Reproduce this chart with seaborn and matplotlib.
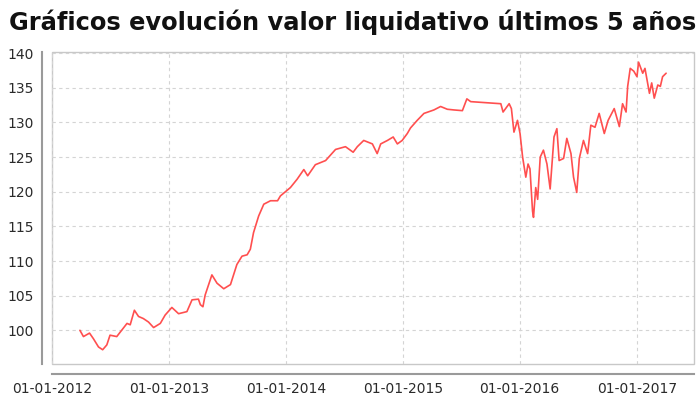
import pandas as pd
import matplotlib
matplotlib.use("Agg")
import matplotlib.pyplot as plt
import matplotlib.dates as mdates
from matplotlib.patches import Rectangle
import seaborn as sns

# --- DATOS: valor liquidativo (lectura aproximada del grafico) ---
fechas = [
    "2012-03-29", "2012-04-09", "2012-04-28", "2012-05-10", "2012-05-26", "2012-06-08",
    "2012-06-21", "2012-07-01", "2012-07-22", "2012-08-23", "2012-09-02", "2012-09-15",
    "2012-09-28", "2012-10-13", "2012-10-29", "2012-11-14", "2012-12-05", "2012-12-20",
    "2013-01-10", "2013-01-31", "2013-02-26", "2013-03-14", "2013-04-03", "2013-04-09",
    "2013-04-17", "2013-04-24", "2013-05-15", "2013-05-31", "2013-06-21", "2013-07-12",
    "2013-08-01", "2013-08-17", "2013-09-02", "2013-09-12", "2013-09-22", "2013-10-08",
    "2013-10-24", "2013-11-14", "2013-12-06", "2013-12-15", "2014-01-15", "2014-02-05",
    "2014-02-26", "2014-03-10", "2014-04-03", "2014-05-05", "2014-06-05", "2014-07-06",
    "2014-07-30", "2014-08-12", "2014-09-01", "2014-09-28", "2014-10-13", "2014-10-24",
    "2014-11-14", "2014-12-02", "2014-12-15", "2014-12-30", "2015-01-15", "2015-01-25",
    "2015-02-15", "2015-03-08", "2015-04-08", "2015-04-29", "2015-05-20", "2015-06-10",
    "2015-07-06", "2015-07-20", "2015-08-01", "2015-11-03", "2015-11-10", "2015-11-29",
    "2015-12-06", "2015-12-14", "2015-12-25", "2016-01-02", "2016-01-10", "2016-01-20",
    "2016-01-27", "2016-02-02", "2016-02-10", "2016-02-13", "2016-02-20", "2016-02-26",
    "2016-03-05", "2016-03-15", "2016-03-26", "2016-04-05", "2016-04-17", "2016-04-26",
    "2016-05-03", "2016-05-17", "2016-05-27", "2016-06-09", "2016-06-17", "2016-06-27",
    "2016-07-05", "2016-07-18", "2016-07-31", "2016-08-10", "2016-08-23", "2016-09-05",
    "2016-09-21", "2016-10-03", "2016-10-22", "2016-11-07", "2016-11-17", "2016-11-28",
    "2016-12-03", "2016-12-11", "2016-12-22", "2017-01-01", "2017-01-06", "2017-01-19",
    "2017-01-26", "2017-02-09", "2017-02-16", "2017-02-24", "2017-03-07", "2017-03-15",
    "2017-03-22", "2017-04-02",
]
valores = [
    100.0, 99.1, 99.6, 98.8, 97.6, 97.2,
    97.9, 99.3, 99.1, 101.0, 100.8, 102.9,
    102.0, 101.7, 101.2, 100.4, 101.0, 102.2,
    103.3, 102.4, 102.7, 104.4, 104.5, 103.7,
    103.4, 105.1, 108.0, 106.8, 106.0, 106.6,
    109.5, 110.7, 110.9, 111.7, 114.1, 116.5,
    118.2, 118.7, 118.7, 119.4, 120.6, 121.8,
    123.2, 122.3, 123.9, 124.5, 126.1, 126.5,
    125.7, 126.5, 127.4, 126.9, 125.5, 126.9,
    127.4, 127.9, 126.9, 127.4, 128.4, 129.2,
    130.3, 131.3, 131.8, 132.3, 131.9, 131.8,
    131.7, 133.4, 133.0, 132.7, 131.5, 132.7,
    132.0, 128.6, 130.3, 128.4, 125.0, 122.1,
    124.0, 123.3, 117.2, 116.3, 120.6, 118.9,
    125.0, 126.0, 124.0, 120.4, 127.9, 129.1,
    124.5, 124.8, 127.7, 125.5, 122.1, 119.9,
    124.8, 127.4, 125.5, 129.6, 129.3, 131.3,
    128.4, 130.3, 132.0, 129.4, 132.7, 131.5,
    135.2, 137.8, 137.4, 136.6, 138.7, 137.1,
    137.8, 134.2, 135.7, 133.5, 135.4, 135.2,
    136.6, 137.1,
]
titulo = "Gráficos evolución valor liquidativo últimos 5 años"
rango_y = (95.1, 140.2)
rango_x = ("2012-01-01", "2017-06-28")

df = pd.DataFrame({"fecha": pd.to_datetime(fechas), "valor": valores})

sns.set_style("white")
plt.rcParams["font.family"] = ["DejaVu Sans"]

fig = plt.figure(figsize=(7, 3.98), dpi=100)
ax = fig.add_axes([0.0739, 0.0847, 0.9175, 0.7853])

sns.lineplot(data=df, x="fecha", y="valor", ax=ax, color="#ff4f4f", linewidth=1.2)

ax.set_xlim(pd.to_datetime(rango_x[0]), pd.to_datetime(rango_x[1]))
ax.set_ylim(*rango_y)
ax.set_yticks(range(100, 141, 5))
ax.xaxis.set_major_locator(mdates.YearLocator())
ax.xaxis.set_major_formatter(mdates.DateFormatter("%d-%m-%Y"))
ax.set_xlabel(""); ax.set_ylabel("")

ax.grid(True, color="#d4d4d4", linestyle=(0, (3, 3)), linewidth=0.8)

# ejes desplazados, marco gris claro
for s in ["top", "right"]:
    ax.spines[s].set_visible(False)
for s in ["left", "bottom"]:
    ax.spines[s].set_position(("outward", 7))
    ax.spines[s].set_color("#9a9a9a")
    ax.spines[s].set_linewidth(1.5)
ax.add_patch(Rectangle((0, 0), 1, 1, transform=ax.transAxes, fill=False,
                       edgecolor="#c8c8c8", linewidth=1.0, clip_on=False, zorder=0.5))

ax.tick_params(axis="both", which="major", length=3.5, width=1, color="#9a9a9a",
               labelsize=10, labelcolor="#2a2a2a", pad=2.5, direction="out")

fig.text(0.013, 0.945, titulo, fontsize=17.4, fontweight="bold", color="#111111",
         ha="left", va="center")

fig.savefig("out.png", dpi=100)
